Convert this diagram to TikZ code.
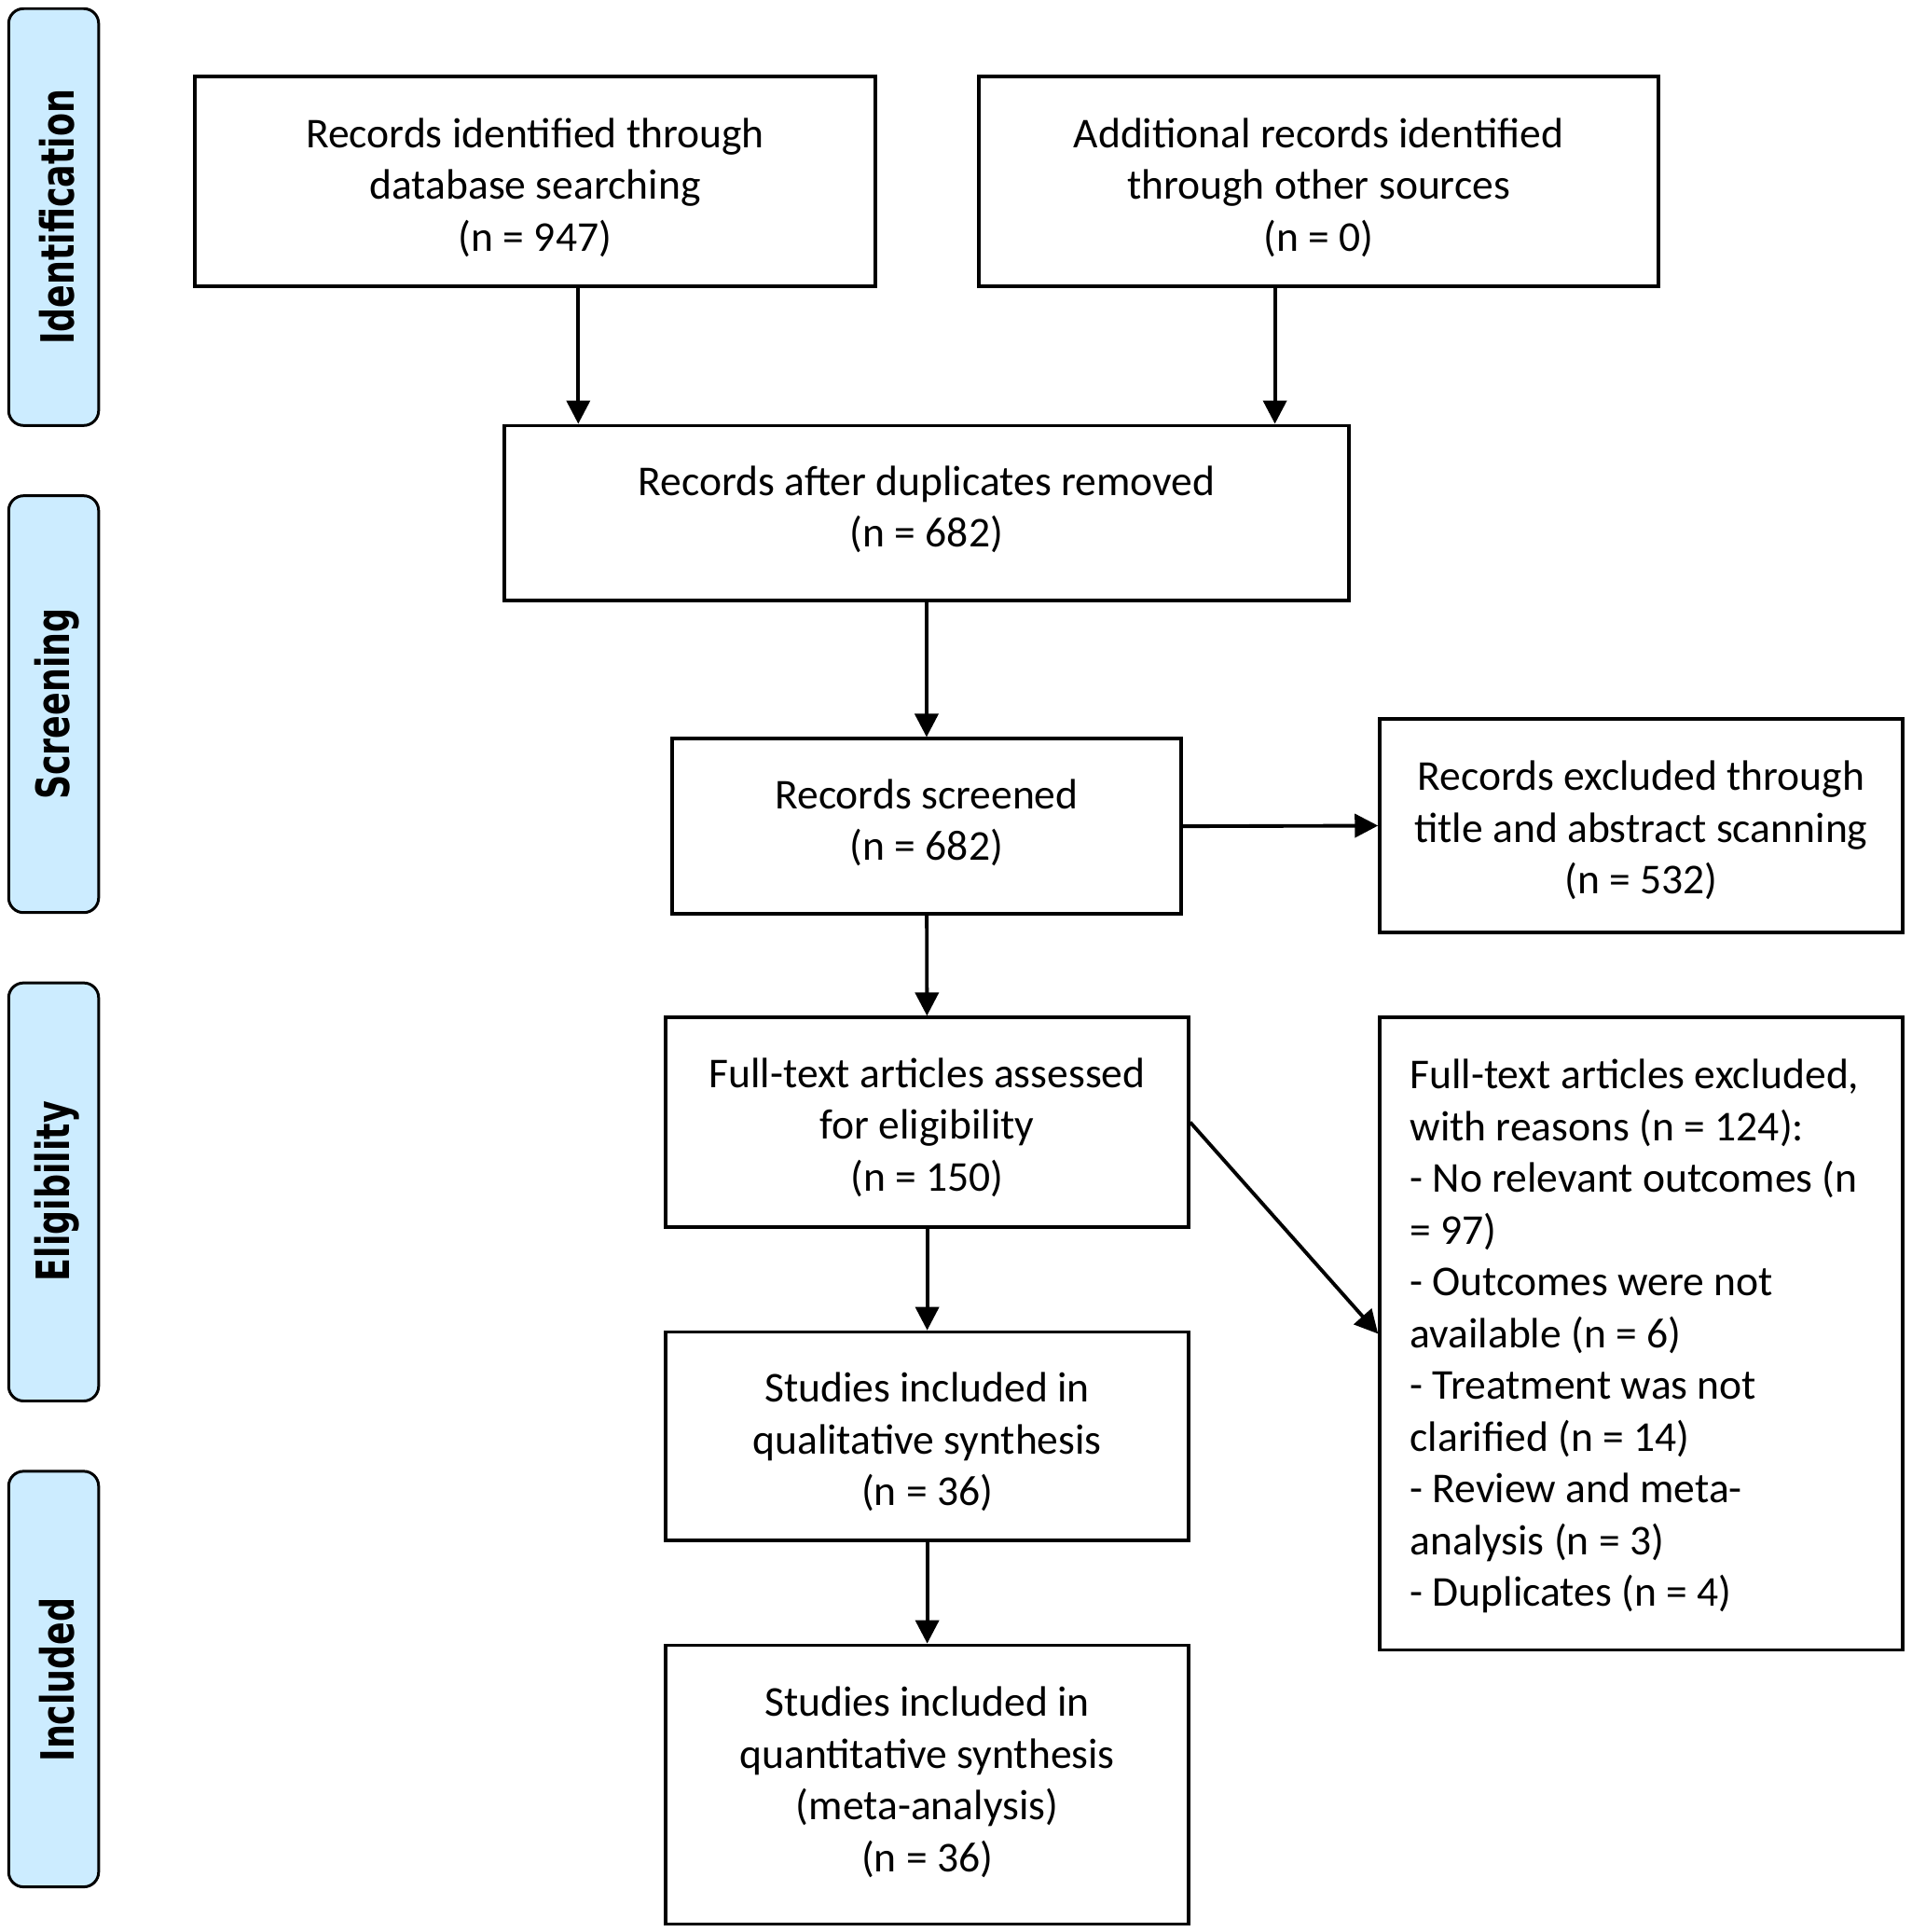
\documentclass[tikz,border=0pt]{standalone}
\usepackage{fontspec}
\usepackage{graphicx}
\setmainfont{Carlito}
\newfontfamily\stagefont{DejaVu Sans}
\usetikzlibrary{fit,calc,arrows.meta}
\definecolor{stageblue}{RGB}{204,236,255}
\tikzset{
  box/.style={draw=black, line width=1pt, inner sep=0pt},
  boxtext/.style={inner sep=0pt, align=center, font=\fontsize{12.97}{15.8}\selectfont},
  stagebar/.style={draw=black, line width=0.85pt, fill=stageblue, rounded corners=0.16cm, inner sep=0pt},
  stagelabel/.style={rotate=90, font=\stagefont\bfseries\fontsize{14}{16}\selectfont, inner sep=0pt},
  arr/.style={draw=black, line width=1.1pt, -{Triangle[length=0.25cm,width=0.25cm]}}
}
\begin{document}
\begin{tikzpicture}[x=0.013226cm, y=-0.013226cm]
\useasboundingbox (0,0) rectangle (1550,1566.6);
% stage bars
\node[stagebar, fit={(7,7) (80,345)}] (s1) {};
\node[stagebar, fit={(7,402) (80,740)}] (s2) {};
\node[stagebar, fit={(7,797) (80,1136)}] (s3) {};
\node[stagebar, fit={(7,1193) (80,1530)}] (s4) {};
\node[stagelabel] (l1) at (46,176) {\scalebox{0.74}[1]{Identification}};
\node[stagelabel] (l2) at (46,571) {\scalebox{0.74}[1]{Screening}};
\node[stagelabel] (l3) at (46,966) {\scalebox{0.74}[1]{Eligibility}};
\node[stagelabel] (l4) at (46,1362) {\scalebox{0.74}[1]{Included}};
% boxes
\node[box, fit={(158,62) (710,232)}] (A) {};
\node[box, fit={(794,62) (1345,232)}] (B) {};
\node[box, fit={(409,345) (1094,487)}] (C) {};
\node[box, fit={(545,599) (958,741)}] (D) {};
\node[box, fit={(1119,583) (1543,756)}] (E) {};
\node[box, fit={(540,825) (964,995)}] (F) {};
\node[box, fit={(1119,825) (1543,1338)}] (G) {};
\node[box, fit={(540,1080) (964,1249)}] (H) {};
\node[box, fit={(540,1334) (964,1560)}] (I) {};
% box texts
\node[boxtext] (tA) at ($(A.center)+(0,5)$) {Records identified through\\database searching\\(n = 947)};
\node[boxtext] (tB) at ($(B.center)+(0,5)$) {Additional records identified\\through other sources\\(n = 0)};
\node[boxtext] (tC) at ($(C.center)+(0,-3)$) {Records after duplicates removed\\(n = 682)};
\node[boxtext] (tD) at ($(D.center)+(0,-3)$) {Records screened\\(n = 682)};
\node[boxtext] (tE) at ($(E.center)+(0,4)$) {Records excluded through\\title and abstract scanning\\(n = 532)};
\node[boxtext] (tF) at ($(F.center)+(0,4)$) {Full-text articles assessed\\for eligibility\\(n = 150)};
\node[boxtext, align=left, anchor=west] (tG) at ($(G.center)+(-188,2)$) {Full-text articles excluded,\\with reasons (n = 124):\\- No relevant outcomes (n\\= 97)\\- Outcomes were not\\available (n = 6)\\- Treatment was not\\clarified (n = 14)\\- Review and meta-\\analysis (n = 3)\\- Duplicates (n = 4)};
\node[boxtext] (tH) at ($(H.center)+(0,5)$) {Studies included in\\qualitative synthesis\\(n = 36)};
\node[boxtext] (tI) at ($(I.center)+(0,-2)$) {Studies included in\\quantitative synthesis\\(meta-analysis)\\(n = 36)};
% connectors
\path ($(A.south)+(35,0)$) coordinate (a1);
\path ($(B.south)+(-35.5,0)$) coordinate (b1);
\draw[arr] (a1) -- (a1 |- C.north);
\draw[arr] (b1) -- (b1 |- C.north);
\draw[arr] (C) -- (D);
\draw[arr] (D.east) -- (E.west);
\draw[arr] (D) -- (F);
\draw[arr] (F.east) -- (G.west);
\draw[arr] (F) -- (H);
\draw[arr] (H) -- (I);
\end{tikzpicture}
\end{document}
